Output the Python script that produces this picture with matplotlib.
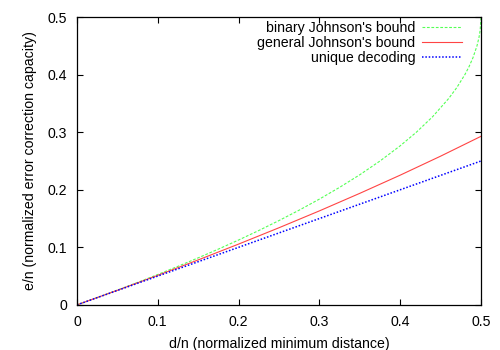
import matplotlib
matplotlib.use('Agg')
import matplotlib.pyplot as plt  # NOQA

plt.rcParams['font.family'] = ['Liberation Sans', 'DejaVu Sans']

# values
d_binary = [0.0, 0.025, 0.05, 0.075, 0.1, 0.125, 0.15, 0.175, 0.2, 0.225,
            0.25, 0.275, 0.3, 0.325, 0.35, 0.375, 0.4, 0.42, 0.44, 0.46,
            0.47, 0.48, 0.485, 0.49, 0.495, 0.4975, 0.499, 0.5]
e_binary = [0.0, 0.0127, 0.0257, 0.039, 0.0528, 0.067, 0.0817, 0.0969,
            0.1127, 0.1292, 0.1465, 0.1646, 0.1838, 0.2042, 0.2261, 0.25,
            0.2764, 0.3, 0.3268, 0.3586, 0.3775, 0.4, 0.4134, 0.4293, 0.45,
            0.4646, 0.4776, 0.5]

d_general = [0.0, 0.05, 0.1, 0.15, 0.2, 0.25, 0.3, 0.35, 0.4, 0.45, 0.5]
e_general = [0.0, 0.0253, 0.0513, 0.0781, 0.1056, 0.134, 0.1633, 0.1938,
             0.2254, 0.2584, 0.2929]

d_unique = [0.0, 0.5]
e_unique = [0.0, 0.25]

tick_vals = [0, 0.1, 0.2, 0.3, 0.4, 0.5]
tick_labels = ['0', '0.1', '0.2', '0.3', '0.4', '0.5']

fig = plt.figure(figsize=(5, 3.5), dpi=100)
ax = fig.add_axes([0.154, 0.129, 0.808, 0.822])

ax.plot(d_binary, e_binary, color='#55ff55', lw=0.8, ls=(0, (2.5, 1.5)),
        label="binary Johnson's bound")
ax.plot(d_general, e_general, color='#ff4444', lw=0.8,
        label="general Johnson's bound")
ax.plot(d_unique, e_unique, color='#0000ff', lw=1.1, ls=(0, (1, 1.2)),
        label='unique decoding')

ax.set_xlim(0, 0.5)
ax.set_ylim(0, 0.5)
ax.set_xticks(tick_vals)
ax.set_yticks(tick_vals)
ax.set_xticklabels(tick_labels)
ax.set_yticklabels(tick_labels)
ax.tick_params(direction='in', top=True, right=True, length=4,
               width=0.8, labelsize=10.2, pad=7)
for s in ax.spines.values():
    s.set_linewidth(0.9)

ax.set_xlabel('d/n (normalized minimum distance)', fontsize=10.2,
              labelpad=6)
ax.set_ylabel('e/n (normalized error correction capacity)', fontsize=10.2,
              labelpad=8)

leg = ax.legend(loc='upper right', frameon=False, fontsize=10.2,
                markerfirst=False, handlelength=2.8, borderaxespad=0,
                labelspacing=0.05, handletextpad=0.5,
                bbox_to_anchor=(0.967, 1.005))
for t in leg.get_texts():
    t.set_ha('right')

fig.savefig('out.png', dpi=100)
